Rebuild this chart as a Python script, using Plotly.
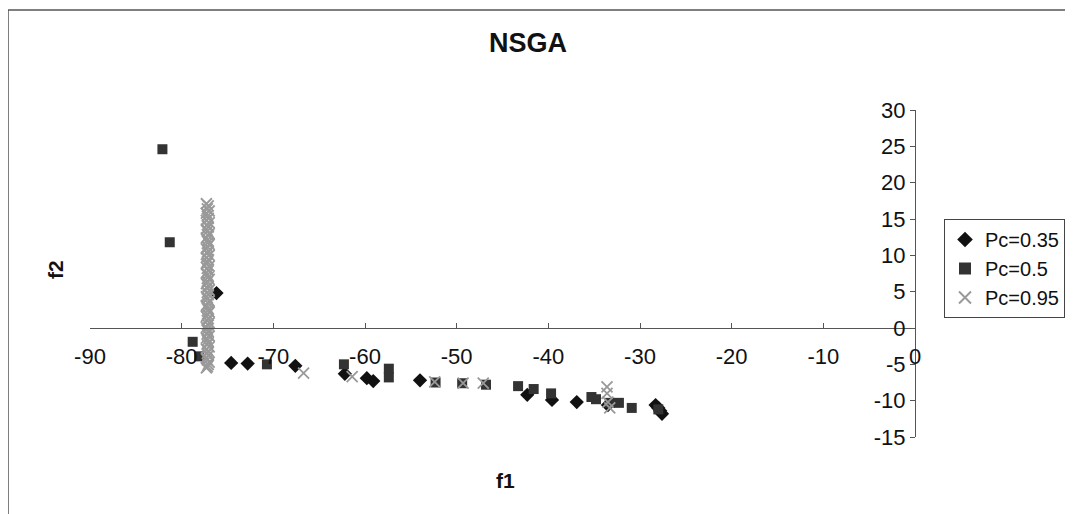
import plotly.graph_objects as go

# ---- data ----
pc035_f1 = [-76.2, -74.6, -72.8, -67.6, -62.2, -59.8, -59.1, -54.0, -42.3, -39.6,
            -36.9, -33.5, -28.3, -28.0, -27.8, -27.6]
pc035_f2 = [4.8, -4.8, -4.9, -5.2, -6.3, -6.9, -7.3, -7.2, -9.2, -9.9,
            -10.2, -10.6, -10.6, -11.0, -11.4, -11.8]

pc05_f1 = [-82.1, -81.3, -78.8, -78.1, -70.7, -62.3, -57.4, -57.4, -52.3, -49.4,
           -46.8, -43.3, -41.6, -39.7, -35.3, -34.8, -33.3, -32.3, -30.9, -28.0]
pc05_f2 = [24.6, 11.8, -1.9, -3.9, -5.0, -5.0, -5.6, -6.8, -7.5, -7.6,
           -7.8, -8.0, -8.4, -9.0, -9.5, -9.8, -10.3, -10.3, -11.0, -11.2]

pc095_f1 = [-77.3, -77.1, -77.2, -77.0, -77.3, -77.2, -77.1, -77.3, -77.0, -77.2,
            -77.1, -77.3, -77.2, -77.0, -77.1, -77.3, -77.2, -77.1, -77.0, -77.2,
            -77.3, -77.1, -77.2, -77.0, -77.3, -77.1, -77.2, -77.3, -77.0, -77.2,
            -77.1, -77.3, -77.2, -77.1, -77.0, -77.2, -77.3, -77.1, -77.2, -77.0,
            -77.2, -77.1, -77.3, -77.2, -77.0, -77.1, -77.3, -77.2, -77.1, -77.0,
            -77.2, -77.3, -77.1, -77.2, -77.0, -77.1, -77.3, -77.2, -77.1, -77.2,
            -77.0, -77.3, -77.2, -77.1, -77.2, -77.0, -77.3, -77.1, -77.2, -77.1,
            -77.3, -77.2, -77.0, -77.1, -77.2, -77.3,
            -66.7, -61.4, -52.4, -49.3, -47.1, -33.6, -33.6, -33.5, -33.3]
pc095_f2 = [17.1, 16.8, 16.4, 16.1, 15.8, 15.4, 15.1, 14.8, 14.5, 14.2,
            13.9, 13.6, 13.3, 13.0, 12.7, 12.4, 12.1, 11.8, 11.5, 11.2,
            10.9, 10.6, 10.3, 10.0, 9.7, 9.4, 9.1, 8.8, 8.5, 8.2,
            7.9, 7.6, 7.3, 7.0, 6.7, 6.4, 6.1, 5.8, 5.5, 5.2,
            4.9, 4.6, 4.3, 4.0, 3.7, 3.4, 3.1, 2.8, 2.5, 2.2,
            1.9, 1.6, 1.3, 1.0, 0.7, 0.4, 0.1, -0.2, -0.5, -0.8,
            -1.1, -1.4, -1.7, -2.0, -2.3, -2.6, -2.9, -3.2, -3.5, -3.8,
            -4.1, -4.4, -4.7, -5.0, -5.3, -5.5,
            -6.2, -6.7, -7.4, -7.6, -7.6, -8.1, -9.0, -10.2, -11.0]

x_ticks = [-90, -80, -70, -60, -50, -40, -30, -20, -10, 0]
x_tick_text = ["-90", "-80", "-70", "-60", "-50", "-40", "-30", "-20", "-10", "0"]
y_ticks = [-15, -10, -5, 0, 5, 10, 15, 20, 25, 30]
y_tick_text = ["-15", "-10", "-5", "0", "5", "10", "15", "20", "25", "30"]

FONT = "Liberation Sans, Arial, sans-serif"
OFF = 8  # page body margin offset

L, T, W, H = 90 - OFF, 110 - OFF, 825, 327

fig = go.Figure()
fig.add_trace(go.Scatter(
    x=pc035_f1, y=pc035_f2, mode="markers", name="Pc=0.35",
    marker=dict(symbol="diamond", size=11, color="#111111", line=dict(width=0))))
fig.add_trace(go.Scatter(
    x=pc05_f1, y=pc05_f2, mode="markers", name="Pc=0.5",
    marker=dict(symbol="square", size=10, color="#333333", line=dict(width=0))))
fig.add_trace(go.Scatter(
    x=pc095_f1, y=pc095_f2, mode="markers", name="Pc=0.95",
    marker=dict(symbol="x-thin-open", size=11, color="#999999",
                line=dict(width=1.8, color="#999999"))))

fig.update_layout(
    width=1073, height=514,
    margin=dict(l=L, r=1073 - L - W, t=T, b=514 - T - H, autoexpand=False),
    paper_bgcolor="white", plot_bgcolor="white",
    font=dict(family=FONT, size=22, color="#111111"),
    title=dict(text="<b>NSGA</b>", x=(528 - OFF) / 1073, xref="container", xanchor="center",
               y=1 - (43 - OFF) / 514, yref="container", yanchor="middle",
               font=dict(family=FONT, size=27, color="#111111")),
    xaxis=dict(range=[-90, 0], tickvals=x_ticks, ticktext=x_tick_text,
               showgrid=False, zeroline=False,
               showline=True, linecolor="#555555", linewidth=1,
               anchor="free", position=1 / 3, ticks="inside", ticklen=5,
               tickcolor="#555555", ticklabelstandoff=9,
               tickfont=dict(family=FONT, size=22, color="#111111")),
    yaxis=dict(range=[-15, 30], tickvals=y_ticks, ticktext=y_tick_text,
               showgrid=False, zeroline=False,
               showline=True, linecolor="#555555", linewidth=1,
               anchor="free", position=1, side="left", ticks="outside", ticklen=5,
               tickcolor="#555555",
               tickfont=dict(family=FONT, size=22, color="#111111")),
    legend=dict(x=(944 - 90) / 825, y=(437 - 219) / 327, xanchor="left", yanchor="top",
                bordercolor="#444444", borderwidth=1, bgcolor="white",
                font=dict(family=FONT, size=20, color="#111111"),
                itemwidth=30, tracegroupgap=0, itemsizing="constant"),
    showlegend=True,
)

fig.add_annotation(text="<b>f1</b>", xref="paper", yref="paper",
                   x=(505 - 90) / 825, y=(437 - 480) / 327, showarrow=False,
                   xanchor="center", yanchor="middle",
                   font=dict(family=FONT, size=21, color="#111111"))
fig.add_annotation(text="<b>f2</b>", xref="paper", yref="paper",
                   x=(55 - 90) / 825, y=(437 - 270) / 327, showarrow=False,
                   xanchor="center", yanchor="middle",
                   textangle=-90, font=dict(family=FONT, size=21, color="#111111"))

# chart-area border
fig.add_shape(type="rect", xref="paper", yref="paper",
              x0=(8 - 90) / 825, x1=1.3, y0=-0.4, y1=(437 - 10) / 327,
              line=dict(color="#555555", width=1.5), fillcolor="rgba(0,0,0,0)",
              layer="below")

fig.write_html("out.html")
